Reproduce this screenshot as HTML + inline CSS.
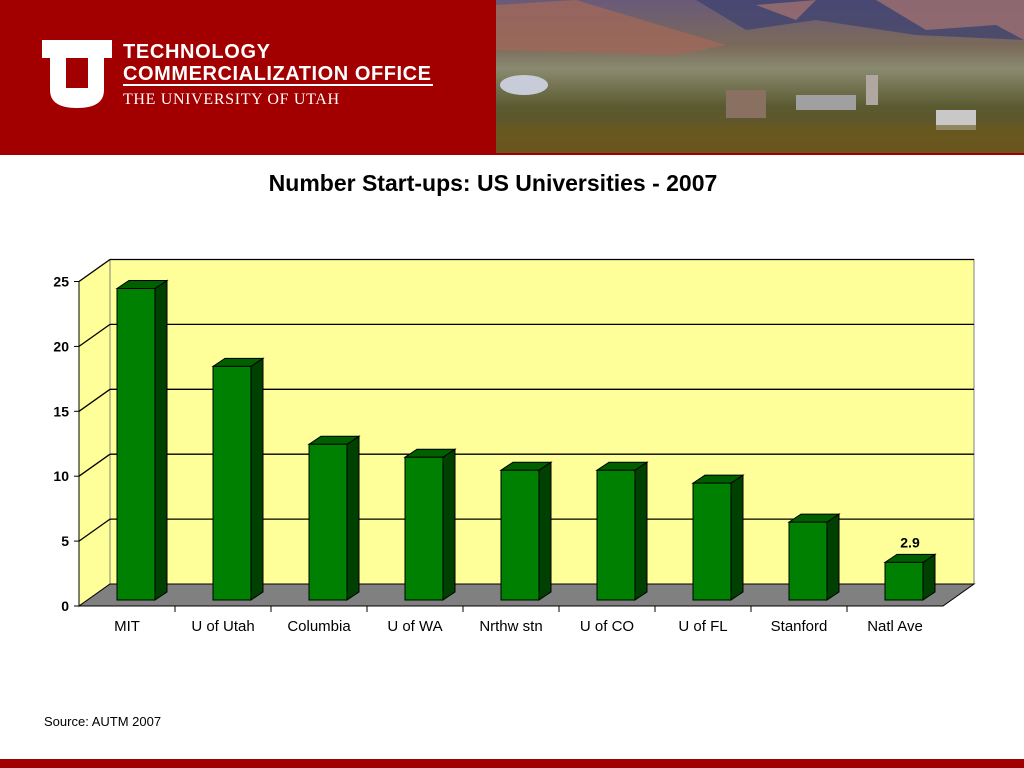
<!DOCTYPE html>
<html><head><meta charset="utf-8"><style>
body{margin:0;width:1024px;height:768px;overflow:hidden;background:#fff;font-family:"Liberation Sans",sans-serif;position:relative}
.abs{position:absolute}
</style></head><body>
<div class="abs" style="left:0;top:0;width:1024px;height:155px;background:#a20000"></div>
<svg class="abs" style="left:0;top:0" width="496" height="155">
<path d="M42 40 H112 V58 H104 V90 Q104 108 77 108 Q50 108 50 90 V58 H42 Z M66 58 V88 H88 V58 Z" fill="#fff" fill-rule="evenodd"/>
<text x="123" y="58" fill="#fff" font-size="20" font-weight="bold" font-family="Liberation Sans,sans-serif" textLength="147">TECHNOLOGY</text>
<text x="123" y="80" fill="#fff" font-size="20" font-weight="bold" font-family="Liberation Sans,sans-serif" textLength="308">COMMERCIALIZATION OFFICE</text>
<rect x="123" y="84" width="310" height="2" fill="#fff"/>
<text x="123" y="104" fill="#fff" font-size="16" font-family="Liberation Serif,serif" textLength="216">THE UNIVERSITY OF UTAH</text>
</svg>
<svg class="abs" style="left:496px;top:0" width="528" height="155">
<defs><linearGradient id="g" x1="0" y1="0" x2="0" y2="1">
<stop offset="0" stop-color="#6a5a7a"/><stop offset="0.3" stop-color="#7a6a5a"/><stop offset="0.45" stop-color="#8a8a70"/><stop offset="0.7" stop-color="#5a5a30"/><stop offset="1" stop-color="#6a5020"/></linearGradient></defs>
<rect width="528" height="153" fill="url(#g)"/>
<path d="M0 5 L80 0 L230 45 L180 55 L0 50 Z" fill="#a0685a" opacity="0.8"/>
<path d="M200 0 H528 V40 L420 35 L320 20 L250 30 Z" fill="#3a4070" opacity="0.7"/>
<path d="M260 5 L300 20 L320 0 Z M380 0 L430 30 L500 25 L528 40 V0 Z" fill="#a07070" opacity="0.8"/>
<ellipse cx="28" cy="85" rx="24" ry="10" fill="#c8ccd8"/>
<rect x="370" y="75" width="12" height="30" fill="#b0a8a0"/>
<rect x="230" y="90" width="40" height="28" fill="#8a7060"/>
<rect x="300" y="95" width="60" height="15" fill="#a0a0a0"/>
<rect x="440" y="110" width="40" height="20" fill="#c8c8c8"/>
<rect x="0" y="125" width="528" height="28" fill="#6a5a1a" opacity="0.6"/>
</svg>
<div class="abs" style="left:0;width:986px;top:170px;text-align:center;font-size:23px;font-weight:bold">Number Start-ups: US Universities - 2007</div>
<svg class="abs" id="chart" style="left:0;top:0" width="1024" height="700"></svg>
<div class="abs" style="left:44px;top:714px;font-size:13px">Source: AUTM 2007</div>
<div class="abs" style="left:0;top:759px;width:1024px;height:9px;background:#a00000"></div>
<script>
const categories=["MIT","U of  Utah","Columbia","U of  WA","Nrthw stn","U of  CO","U of  FL","Stanford","Natl Ave"];
const values=[24,18,12,11,10,10,9,6,2.9];
const yTicks=[0,5,10,15,20,25];
const labeled=[8];
const NS="http://www.w3.org/2000/svg";
const svg=document.getElementById('chart');
const X0=79,Y0=606,W=864,DX=31,DY=-22,S=12.98,BARBASE=600;
const catW=W/categories.length;
function yFront(v){return Y0-v*S;}
function yBack(v){return Y0+DY-v*S;}
function yBar(v){return BARBASE-v*S;}
function add(tag,attrs,name){const e=document.createElementNS(NS,tag);for(const k in attrs)e.setAttribute(k,attrs[k]);svg.appendChild(e);return e;}
const top25=yTicks[yTicks.length-1];
let e;
e=add('polygon',{points:`${X0+DX},${yBack(0)} ${X0+DX+W},${yBack(0)} ${X0+DX+W},${yBack(top25)} ${X0+DX},${yBack(top25)}`,fill:'#ffff99',stroke:'#808080'});


e=add('polygon',{points:`${X0},${yFront(0)} ${X0+DX},${yBack(0)} ${X0+DX},${yBack(top25)} ${X0},${yFront(top25)}`,fill:'#ffff99',stroke:'#808080'});


e=add('polygon',{points:`${X0},${Y0} ${X0+W},${Y0} ${X0+W+DX},${yBack(0)} ${X0+DX},${yBack(0)}`,fill:'#808080',stroke:'#000','stroke-width':1});


yTicks.forEach(t=>{
 if(t>0){
 e=add('line',{x1:X0+DX,x2:X0+DX+W,y1:yBack(t),y2:yBack(t),stroke:'#000','stroke-width':1.3});
 
 
 e=add('line',{x1:X0,x2:X0+DX,y1:yFront(t),y2:yBack(t),stroke:'#000','stroke-width':1.3});
 
 }
 e=add('line',{x1:X0-5,x2:X0,y1:yFront(t),y2:yFront(t),stroke:'#000'});
 
 
 e=add('text',{x:X0-10,y:yFront(t)+5,'text-anchor':'end','font-size':14,'font-weight':'bold','font-family':'Liberation Sans,sans-serif'});
 e.textContent=t;
 
 
});
e=add('line',{x1:X0,x2:X0,y1:yFront(0),y2:yFront(top25),stroke:'#000'});


e=add('line',{x1:X0,x2:X0+W,y1:Y0,y2:Y0,stroke:'#000'});


categories.forEach((c,i)=>{
 const x=X0+i*catW+38, w=38, d=12, dd=-8, yt=yBar(values[i]);
 const g=document.createElementNS(NS,'g');svg.appendChild(g);
 
 
 const mk=(pts,f)=>{const p=document.createElementNS(NS,'polygon');p.setAttribute('points',pts);p.setAttribute('fill',f);p.setAttribute('stroke','#000');p.setAttribute('stroke-width','1');g.appendChild(p);};
 mk(`${x+w},${BARBASE} ${x+w+d},${BARBASE+dd} ${x+w+d},${yt+dd} ${x+w},${yt}`,'#004000');
 mk(`${x},${yt} ${x+d},${yt+dd} ${x+w+d},${yt+dd} ${x+w},${yt}`,'#006000');
 mk(`${x},${yt} ${x+w},${yt} ${x+w},${BARBASE} ${x},${BARBASE}`,'#008000');
 if(i>0){e=add('line',{x1:X0+i*catW,x2:X0+i*catW,y1:Y0,y2:Y0+6,stroke:'#000'});
 
 }
 e=add('text',{x:X0+i*catW+catW/2,y:Y0+25,'text-anchor':'middle','font-size':15,'font-family':'Liberation Sans,sans-serif','xml:space':'preserve'});
 e.textContent=c;
 
 
 if(labeled.includes(i)){
 e=add('text',{x:x+w/2+6,y:yt+dd-7,'text-anchor':'middle','font-size':14,'font-weight':'bold','font-family':'Liberation Sans,sans-serif'});
 e.textContent=values[i];
 
 }
});
</script>
</body></html>
